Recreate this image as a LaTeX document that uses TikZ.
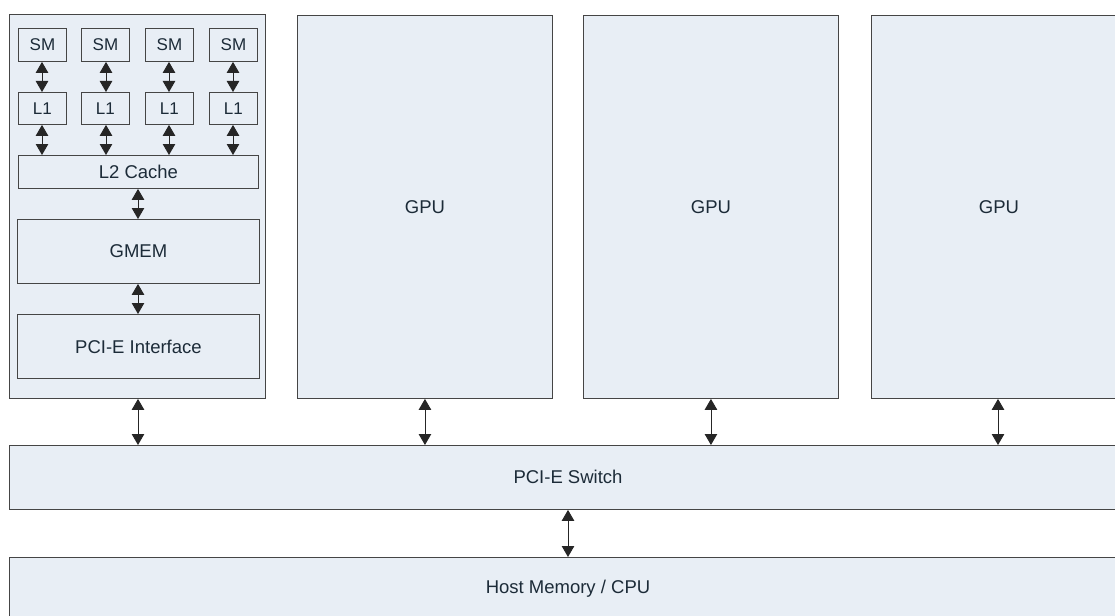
\documentclass[tikz,border=0pt]{standalone}
\usepackage{fontspec}
\setmainfont{Liberation Sans}
\usetikzlibrary{arrows.meta}
\definecolor{boxfill}{HTML}{E8EEF5}
\definecolor{boxline}{HTML}{454545}
\definecolor{txt}{HTML}{1C2B38}
\tikzset{
  blk/.style={draw=boxline, fill=boxfill, line width=0.9pt, inner sep=0pt},
  lbl/.style={text=txt, font=\fontsize{18.5}{20}\selectfont},
  small/.style={text=txt, font=\fontsize{17}{20}\selectfont},
  link/.style={line width=0.9pt, draw=black!85,
               {Triangle[width=12.5pt,length=11pt]}-{Triangle[width=12.5pt,length=11pt]}},
}
\begin{document}
\begin{tikzpicture}[x=1pt,y=1pt]
\useasboundingbox (0,0) rectangle (1115,-615);
\clip (0,0) rectangle (1115,-615);
\fill[white] (0,0) rectangle (1115,-615);

% first GPU, opened up
\node[blk, minimum width=256pt, minimum height=384pt, anchor=north west] (gpu1) at (9,-14) {};
\foreach \i/\x in {1/18,2/81,3/145,4/209}{
  \node[blk, minimum width=48pt, minimum height=33pt, anchor=north west] (sm\i) at (\x,-28) {};
  \node[small] at (sm\i.center) {SM};
  \node[blk, minimum width=48pt, minimum height=32pt, anchor=north west] (l1\i) at (\x,-92) {};
  \node[small] at (l1\i.center) {L1};
}
\node[blk, minimum width=240pt, minimum height=33pt, anchor=north west] (l2) at (18,-155) {};
\node[lbl] at (l2.center) {L2 Cache};
\node[blk, minimum width=242pt, minimum height=64pt, anchor=north west] (gmem) at (17,-219) {};
\node[lbl] at (gmem.center) {GMEM};
\node[blk, minimum width=242pt, minimum height=64pt, anchor=north west] (pcie) at (17,-314) {};
\node[lbl] at (pcie.center) {PCI-E Interface};

\foreach \i/\x in {1/42,2/106,3/169,4/233}{
  \draw[link] (sm\i.south -| \x,0) -- (l1\i.north -| \x,0);
  \draw[link] (l1\i.south -| \x,0) -- (l2.north -| \x,0);
}
\draw[link] (l2.south -| 138,0) -- (gmem.north -| 138,0);
\draw[link] (gmem.south -| 138,0) -- (pcie.north -| 138,0);

% other GPUs
\foreach \i/\x in {2/297,3/583,4/871}{
  \node[blk, minimum width=255pt, minimum height=383pt, anchor=north west] (gpu\i) at (\x,-15) {};
  \node[lbl] at ([yshift=-192pt]gpu\i.north) {GPU};
}

% switch and host
\node[blk, minimum width=1120pt, minimum height=64pt, anchor=north west] (switch) at (9,-445) {};
\node[lbl] at (568,-477) {PCI-E Switch};
\node[blk, minimum width=1120pt, minimum height=70pt, anchor=north west] (host) at (9,-557) {};
\node[lbl] at (568,-589) {Host Memory / CPU};

\draw[link] (gpu1.south -| 138,0) -- (switch.north -| 138,0);
\draw[link] (gpu2.south) -- (switch.north -| gpu2.south);
\draw[link] (gpu3.south) -- (switch.north -| gpu3.south);
\draw[link] (gpu4.south -| 998,0) -- (switch.north -| 998,0);
\draw[link] (switch.south -| 568,0) -- (host.north -| 568,0);
\end{tikzpicture}
\end{document}
